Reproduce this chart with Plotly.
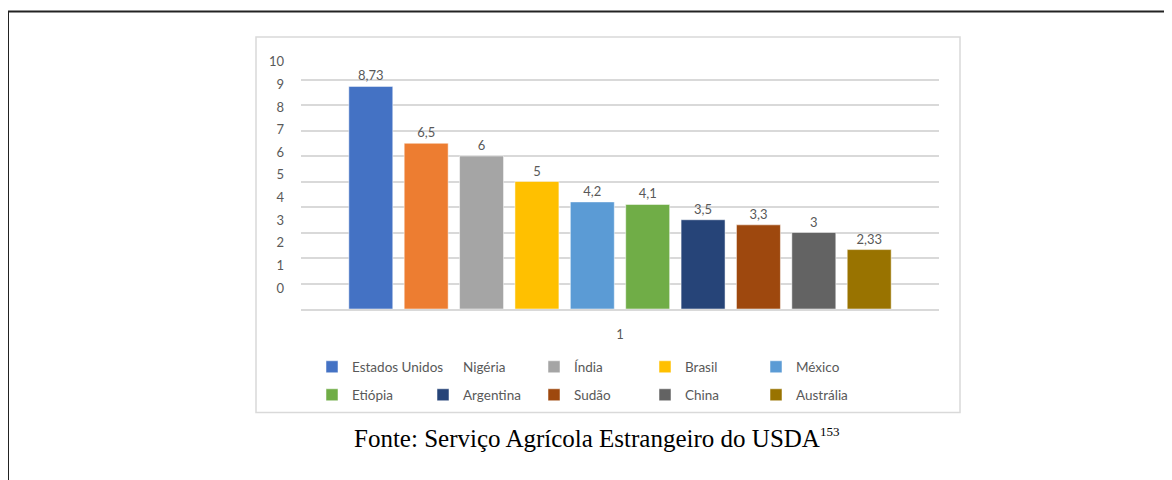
import plotly.graph_objects as go

countries = ["Estados Unidos", "Nigéria", "Índia", "Brasil", "México",
             "Etiópia", "Argentina", "Sudão", "China", "Austrália"]
values = [8.73, 6.5, 6, 5, 4.2, 4.1, 3.5, 3.3, 3, 2.33]
colors = ["#4472C4", "#ED7D31", "#A5A5A5", "#FFC000", "#5B9BD5",
          "#70AD47", "#264478", "#9E480E", "#636363", "#997300"]
category = ["1"]
y_ticks = list(range(0, 11))

OFF = 8  # page body margin
W, H = 1172 - OFF, 480 - OFF
L, R, T, B = 301 - OFF, 939 - OFF, 54 - OFF, 309 - OFF
pw, ph = R - L, B - T


def px(x):
    return (x - OFF - L) / pw


def py(y):
    return (B - (y - OFF)) / ph


fig = go.Figure()
for i, (name, v, c) in enumerate(zip(countries, values, colors)):
    fig.add_trace(go.Bar(
        x=category, y=[v], name=name,
        marker=dict(color=c, line=dict(color="rgba(255,255,255,0.5)", width=1)),
        text=[f"{v:g}".replace(".", ",")], textposition="outside",
        textfont=dict(family="Lato", size=13, color="#595959"),
        cliponaxis=False,
        legend="legend" if i < 5 else "legend2",
        legendrank=i + 1,
        showlegend=(i != 1),
        hoverinfo="skip",
    ))

# legend entry for Nigéria: in the reference its swatch is hidden under the previous label
fig.add_trace(go.Scatter(x=[None], y=[None], name=countries[1], mode="markers",
                         marker=dict(color="rgba(0,0,0,0)", size=1),
                         legend="legend", legendrank=2, hoverinfo="skip"))

# invisible trace to carry the tick-label axis
fig.add_trace(go.Scatter(x=category, y=[None], yaxis="y2", showlegend=False,
                         hoverinfo="skip", mode="markers"))

legend_common = dict(orientation="h", entrywidth=66, entrywidthmode="pixels",
                     xanchor="left", yanchor="middle", bgcolor="rgba(0,0,0,0)",
                     font=dict(family="Lato", size=13.5, color="#595959"),
                     itemclick=False, itemdoubleclick=False, traceorder="normal")

shapes = [
    # chart frame
    dict(type="rect", xref="paper", yref="paper",
         x0=px(256), x1=px(960), y0=py(412.5), y1=py(37),
         line=dict(color="#d9d9d9", width=1.5), layer="below"),
    # page border top
    dict(type="line", xref="paper", yref="paper",
         x0=px(8), x1=px(1172), y0=py(11.5), y1=py(11.5),
         line=dict(color="#222222", width=2)),
    # page border left
    dict(type="line", xref="paper", yref="paper",
         x0=px(8.5), x1=px(8.5), y0=py(11), y1=py(480),
         line=dict(color="#222222", width=1)),
]

fig.update_layout(
    width=W, height=H,
    margin=dict(l=L, r=W - R, t=T, b=H - B, pad=0),
    paper_bgcolor="white", plot_bgcolor="white",
    barmode="group", bargap=0.132, bargroupgap=0.206,
    font=dict(family="Lato", size=13, color="#595959"),
    xaxis=dict(showline=True, linecolor="#d9d9d9", linewidth=1.5,
               ticks="", ticklabelstandoff=13, showgrid=False,
               tickfont=dict(family="Lato", size=13, color="#595959")),
    yaxis=dict(range=[0, 10], dtick=1, showticklabels=False,
               showgrid=True, gridcolor="#d9d9d9", gridwidth=1.5,
               zeroline=False, showline=False),
    yaxis2=dict(overlaying="y", side="left", anchor="x",
                range=[-(309 - 288) / 22.63, (288 - 54) / 22.63],
                tickvals=y_ticks, showgrid=False, zeroline=False,
                showline=False, ticks="", ticklabelstandoff=16,
                tickfont=dict(family="Lato", size=13, color="#595959")),
    legend=dict(x=px(312), y=py(367), **legend_common),
    legend2=dict(x=px(312), y=py(395), **legend_common),
    shapes=shapes,
    annotations=[dict(
        text='Fonte: Serviço Agrícola Estrangeiro do USDA<sup><span style="font-size:13px">153</span></sup>',
        xref="paper", yref="paper", x=px(596.5), y=py(438),
        xanchor="center", yanchor="middle", showarrow=False,
        font=dict(family="Liberation Serif", size=25, color="black"))],
    showlegend=True,
)

fig.write_html("out.html")
